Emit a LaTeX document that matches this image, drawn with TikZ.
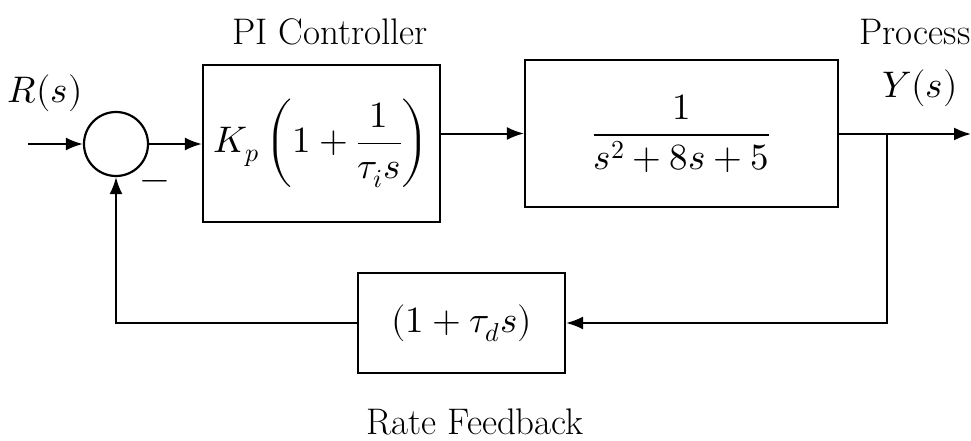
\documentclass[tikz,border=0pt]{standalone}
\usepackage{fontspec}
\usepackage{unicode-math}
\usetikzlibrary{arrows.meta}
\begin{document}
\begin{tikzpicture}[x=1pt,y=-1pt,
  every node/.style={font=\rmfamily\fontsize{37}{44}\selectfont},
  blockbox/.style={draw,line width=2.2pt,inner sep=0pt,anchor=center},
  sig/.style={line width=2pt,-{Latex[length=17pt,width=13pt]}},
  wire/.style={line width=2pt}]
\useasboundingbox (0,0) rectangle (971,441);
\node[draw,circle,line width=2.2pt,minimum size=64pt,inner sep=0pt] (sum) at (116,144) {};
\node[blockbox,minimum width=237pt,minimum height=157pt] (pi) at (321.5,143.5) {$K_{p}\left(1+\dfrac{1}{\tau_{i}s}\right)$};
\node[blockbox,minimum width=313pt,minimum height=147pt] (proc) at (681.5,133.5) {$\dfrac{1}{s^{2}+8s+5}$};
\node[blockbox,minimum width=207pt,minimum height=100pt] (fb) at (461.5,323) {$(1+\tau_{d}s)$};
\node (rlab) at (45,93) {$R(s)$};
\node (pilab) at (330,32) {PI Controller};
\node[anchor=west] (proclab) at (856,32) {Process};
\node (ylab) at (920,88) {$Y(s)$};
\node (minus) at (155,186) {$-$};
\node (rflab) at (475,422) {Rate Feedback};
\coordinate (in) at (28,144);
\coordinate (br) at (887,134);
\coordinate (out) at (971,134);
\draw[sig] (in) -- (sum.west);
\draw[sig] (sum.east) -- (pi.west |- sum.east);
\draw[sig] (pi.east |- proc.west) -- (proc.west);
\draw[wire] (proc.east |- br) -- (br);
\draw[sig] (br) -- (out);
\draw[sig] (br) |- (fb.east);
\draw[sig] (fb.west) -| (sum.south);
\end{tikzpicture}
\end{document}
